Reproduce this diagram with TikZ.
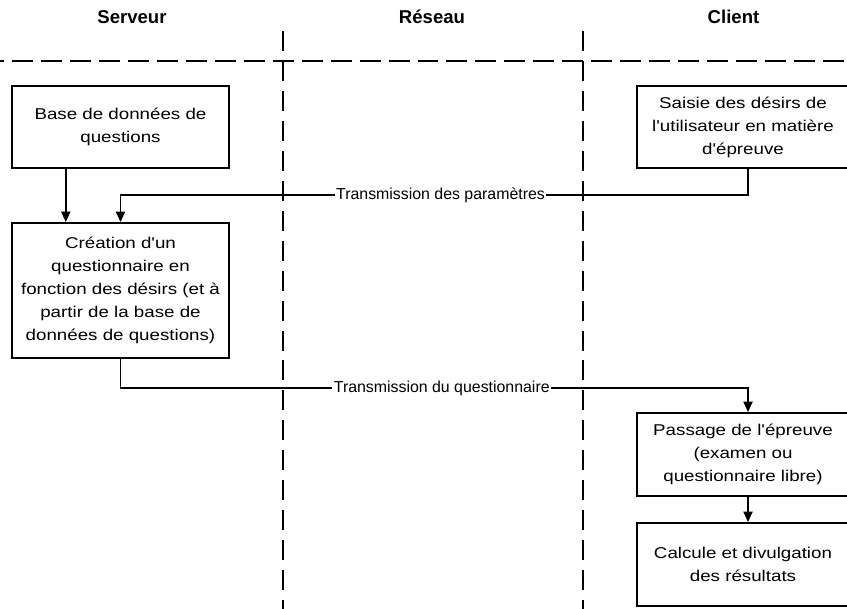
\documentclass[tikz,border=0pt]{standalone}
\usepackage{fontspec}
\setmainfont{Liberation Sans}
\newfontfamily\boxfont{Liberation Sans}[FakeStretch=1.2]
\usetikzlibrary{arrows.meta, calc}
\tikzset{
  lane/.style={line width=1.3pt, dash pattern=on 14.2pt off 7.1pt},
  title/.style={anchor=base, font=\fontsize{13.2}{15}\selectfont\bfseries},
  stage/.style={draw, line width=1.3pt, align=center, inner sep=2pt,
    minimum width=5.425cm, minimum height=2.05cm,
    font=\boxfont\fontsize{11.1}{16.4}\selectfont},
  flow/.style={line width=1.3pt, -{Triangle[width=6.5pt,length=7.5pt]}},
  msg/.style={fill=white, inner sep=1pt, font=\fontsize{11.3}{13}\selectfont},
}

\begin{document}
\begin{tikzpicture}[x=0.025cm, y=-0.025cm]
\useasboundingbox (0,0) rectangle (847,608);
\clip (0,0) rectangle (847,608);
\foreach \x/\name/\txt in {132/srv/Serveur, 432/res/Réseau, 733.5/cli/Client}
  \node[title] (\name) at (\x,23) {\txt};
\draw[lane, dash pattern=on 14.9pt off 5.7pt] (-17,61) -- (870,61);
\foreach \x in {283,583}
  \draw[lane] (\x,31) -- (\x,620);

\node[stage] (base) at (120.5,127) {Base de données de\\questions};
\node[stage, minimum height=3.375cm] (crea) at (120.5,290.5)
  {Création d'un\\questionnaire en\\fonction des désirs (et à\\partir de la base de\\données de questions)};
\node[stage, minimum width=5.3cm] (saisie) at (743,127)
  {Saisie des désirs de\\l'utilisateur en matière\\d'épreuve};
\node[stage, minimum width=5.3cm, minimum height=2.075cm] (passage) at (743,454.5)
  {Passage de l'épreuve\\(examen ou\\questionnaire libre)};
\node[stage, minimum width=5.3cm, minimum height=2.075cm] (calcul) at (743,564.5)
  {Calcule et divulgation\\des résultats};

\draw[flow] ($(base.south west)!.25!(base.south east)$) -- ($(crea.north west)!.25!(crea.north east)$);
\draw[flow] ([xshift=.125cm]saisie.south) -- ++(0,26) -| (crea.north)
  node[msg, pos=.245] {Transmission des paramètres};
\draw[flow] (crea.south) -- ++(0,29) -| ([xshift=.125cm]passage.north)
  node[msg, pos=.256] {Transmission du questionnaire};
\draw[flow] ([xshift=.125cm]passage.south) -- ([xshift=.125cm]calcul.north);
\end{tikzpicture}
\end{document}
